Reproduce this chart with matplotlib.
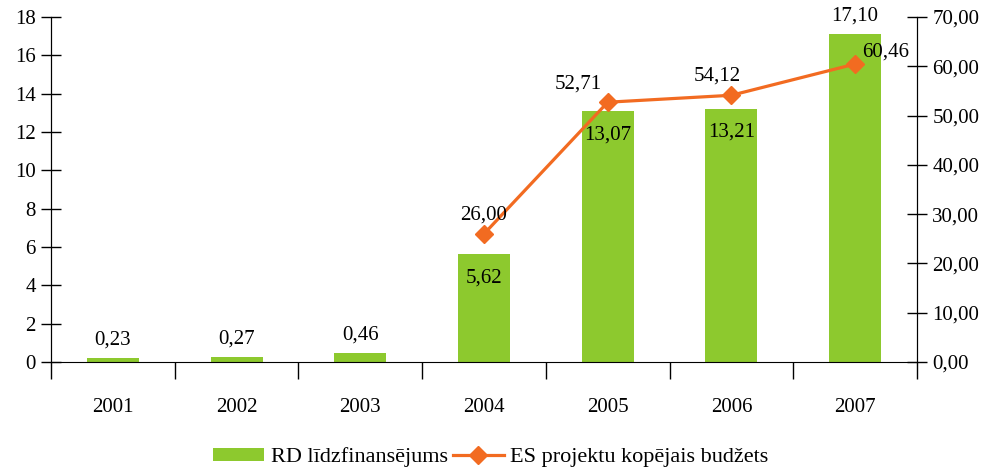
import matplotlib
matplotlib.use("Agg")
import matplotlib.pyplot as plt
from matplotlib.ticker import FuncFormatter, FixedLocator

years = ["2001", "2002", "2003", "2004", "2005", "2006", "2007"]
rd_cofin = [0.23, 0.27, 0.46, 5.62, 13.07, 13.21, 17.10]
es_years = ["2004", "2005", "2006", "2007"]
es_budget = [26.00, 52.71, 54.12, 60.46]

GREEN = "#8dc92e"
ORANGE = "#f26b21"

plt.rcParams['font.family'] = ['Liberation Serif', 'DejaVu Serif']
plt.rcParams['font.size'] = 15


def comma(v, nd=2):
    return f"{v:.{nd}f}".replace(".", ",")


fig = plt.figure(figsize=(9.82, 4.71), dpi=100)
ax = fig.add_axes([51 / 982, 1 - 362 / 471, (917 - 51) / 982, (362 - 17) / 471])
ax2 = ax.twinx()

x = list(range(len(years)))
ax.bar(x, rd_cofin, width=0.42, color=GREEN, label="RD līdzfinansējums", zorder=2)

xs = [years.index(y) for y in es_years]
ax2.plot(xs, es_budget, color=ORANGE, lw=2.3, marker="D", markersize=9,
         label="ES projektu kopējais budžets", zorder=3)

ax.set_xlim(-0.5, len(years) - 0.5)
ax.set_ylim(0, 18)
ax2.set_ylim(0, 70)
ax.set_yticks(range(0, 19, 2))
ax2.set_yticks(range(0, 71, 10))
ax2.yaxis.set_major_formatter(FuncFormatter(lambda v, p: comma(v)))

ax.set_xticks(x)
ax.set_xticklabels(years)
ax.xaxis.set_minor_locator(FixedLocator([i - 0.5 for i in range(len(years) + 1)]))
ax.tick_params(axis="x", which="major", length=0, pad=26)
ax.tick_params(axis="x", which="minor", length=12, direction="out", width=1)
ax.tick_params(axis="y", direction="inout", length=14, width=1, pad=4)
ax2.tick_params(axis="y", direction="inout", length=14, width=1, pad=4)

for a in (ax, ax2):
    a.spines["top"].set_visible(False)
ax2.spines["bottom"].set_visible(False)

# bar labels: above for small/last bars, inside for the middle ones
inside = {3, 4, 5}
for i, v in enumerate(rd_cofin):
    if i in inside:
        ax.annotate(comma(v), (i, v), xytext=(0, -10), textcoords="offset points",
                    ha="center", va="top")
    else:
        ax.annotate(comma(v), (i, v), xytext=(0, 6), textcoords="offset points",
                    ha="center", va="bottom")

# line labels
offsets = [(0, 7), (-21, 6), (-10, 7), (22, 2)]
for xi, v, off in zip(xs, es_budget, offsets):
    ax2.annotate(comma(v), (xi, v), xytext=off, textcoords="offset points",
                 ha="center", va="bottom")

h1, l1 = ax.get_legend_handles_labels()
h2, l2 = ax2.get_legend_handles_labels()
fig.legend(h1 + h2, l1 + l2, loc="lower center", bbox_to_anchor=(0.5, -0.035),
           ncol=2, frameon=False, columnspacing=0.2, handlelength=2.3,
           handletextpad=0.3, handleheight=0.5, fontsize=16)

fig.savefig("out.png", dpi=100)
